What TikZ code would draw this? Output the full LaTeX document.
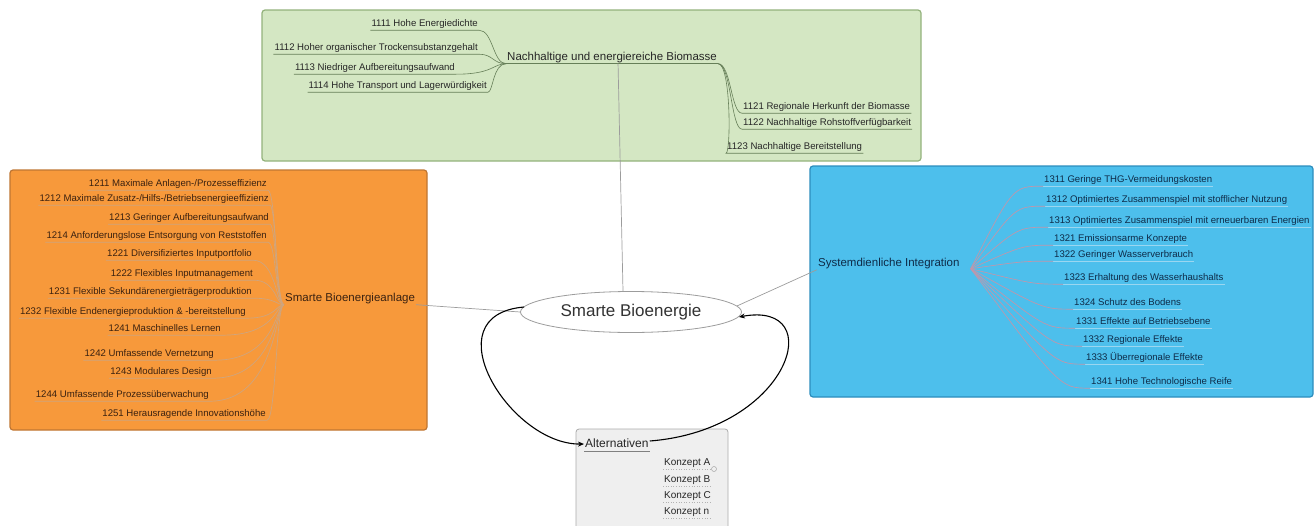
\documentclass[tikz,border=0pt]{standalone}
\usepackage{fontspec}
\setmainfont{Liberation Sans}
\usetikzlibrary{calc,arrows.meta,shapes.geometric}
\definecolor{gfill}{HTML}{D4E7C3}
\definecolor{gdraw}{HTML}{93B27C}
\definecolor{glinec}{HTML}{667F58}
\definecolor{gtext}{HTML}{262626}
\definecolor{ofill}{HTML}{F7993B}
\definecolor{odraw}{HTML}{BF7633}
\definecolor{olinec}{HTML}{CFA57E}
\definecolor{otext}{HTML}{3A2110}
\definecolor{bfill}{HTML}{4DBFEC}
\definecolor{bdraw}{HTML}{2C8DBD}
\definecolor{blinec}{HTML}{C396AA}
\definecolor{bunder}{HTML}{9AD6F0}
\definecolor{btext}{HTML}{0E2B48}
\definecolor{afill}{HTML}{EFEFEF}
\definecolor{adraw}{HTML}{ABABAB}
\definecolor{mlinec}{HTML}{9C9C9C}
\begin{document}
\begin{tikzpicture}[x=1pt,y=-1pt,
  leaf/.style={font=\fontsize{9.6}{10}\selectfont, inner xsep=1pt, inner ysep=1.5pt, text height=7pt, text depth=2pt},
  mainlbl/.style={font=\fontsize{11.5}{13}\selectfont, inner xsep=1pt, inner ysep=1pt, text height=8.5pt, text depth=2.5pt},
  container/.style={line width=1.2pt, rounded corners=3pt},
  glink/.style={draw=glinec, line width=0.6pt},
  olink/.style={draw=olinec, line width=0.7pt},
  blink/.style={draw=blinec, line width=0.65pt},
  bul/.style={draw=bunder, line width=0.7pt},
  mlink/.style={draw=mlinec, line width=0.7pt},
  arr/.style={draw=black, line width=1.1pt, -{Stealth[length=6pt,width=5pt]}},
  kstyle/.style={font=\fontsize{10}{12}\selectfont, inner xsep=1pt, inner ysep=1.5pt, text height=7.5pt, text depth=2pt, text=black!85}
]
\useasboundingbox (0,0) rectangle (1315,525);
% containers
\draw[container, fill=gfill, draw=gdraw] (262,10) rectangle (921,161);
\draw[container, fill=ofill, draw=odraw] (10,170) rectangle (427,430);
\draw[container, fill=bfill, draw=bdraw] (810,166) rectangle (1313,397);
\draw[fill=afill, draw=adraw, line width=0.8pt, rounded corners=3pt] (576,429) rectangle (728,540);

% ---------- green ----------
\node[mainlbl, anchor=west, text=gtext] (gc) at (506,57) {Nachhaltige und energiereiche Biomasse};
\draw[glink] (gc.south west) -- (gc.south east);
\coordinate (gv) at (493,0);
\coordinate (gw) at (731,0);
\foreach \id/\x/\y/\lbl in {1111/479/24/{1111 Hohe Energiedichte},
  1112/479/48/{1112 Hoher organischer Trockensubstanzgehalt},
  1113/456/68/{1113 Niedriger Aufbereitungsaufwand},
  1114/488/86/{1114 Hohe Transport und Lagerwürdigkeit}}{
  \node[leaf, anchor=east, text=gtext] (g\id) at (\x,\y) {\lbl};
  \draw[glink] (gc.south west) .. controls (gv |- gc.south west) and (gv |- g\id.south east) .. (g\id.south east) -- (g\id.south west);
}
\foreach \id/\x/\y/\lbl in {1121/742/107/{1121 Regionale Herkunft der Biomasse},
  1122/742/123/{1122 Nachhaltige Rohstoffverfügbarkeit},
  1123/726/147/{1123 Nachhaltige Bereitstellung}}{
  \node[leaf, anchor=west, text=gtext] (g\id) at (\x,\y) {\lbl};
  \draw[glink] (gc.south east) .. controls (gw |- gc.south east) and (gw |- g\id.south west) .. (g\id.south west) -- (g\id.south east);
}

% ---------- orange ----------
\node[mainlbl, anchor=west, text=otext] (oc) at (284,298) {Smarte Bioenergieanlage};
\coordinate (ov) at (276,0);
\foreach \id/\x/\y/\lbl in {1211/268/184/{1211 Maximale Anlagen-/Prozesseffizienz},
  1212/270/199/{1212 Maximale Zusatz-/Hilfs-/Betriebsenergieeffizienz},
  1213/270/218/{1213 Geringer Aufbereitungsaufwand},
  1214/268/236/{1214 Anforderungslose Entsorgung von Reststoffen},
  1221/253/254/{1221 Diversifiziertes Inputportfolio},
  1222/254/274/{1222 Flexibles Inputmanagement},
  1231/253/292/{1231 Flexible Sekundärenergieträgerproduktion},
  1232/247/312/{1232 Flexible Endenergieproduktion \& -bereitstellung},
  1241/222/329/{1241 Maschinelles Lernen},
  1242/215/354/{1242 Umfassende Vernetzung},
  1243/213/372/{1243 Modulares Design},
  1244/210/395/{1244 Umfassende Prozessüberwachung},
  1251/267/414/{1251 Herausragende Innovationshöhe}}{
  \node[leaf, anchor=east, text=otext] (o\id) at (\x,\y) {\lbl};
  \draw[olink] (oc.south west) .. controls (ov |- oc.south west) and (ov |- o\id.south east) .. (o\id.south east) -- (o\id.south west);
}

% ---------- blue ----------
\node[mainlbl, anchor=west, text=btext] (bc) at (817,263) {Systemdienliche Integration};
\coordinate (bR) at ($(bc.south east)+(10,-1)$);
\foreach \id/\x/\y/\lbl in {1311/1043/180/{1311 Geringe THG-Vermeidungskosten},
  1312/1045/200/{1312 Optimiertes Zusammenspiel mit stofflicher Nutzung},
  1313/1048/221/{1313 Optimiertes Zusammenspiel mit erneuerbaren Energien},
  1321/1053/239/{1321 Emissionsarme Konzepte},
  1322/1053/255/{1322 Geringer Wasserverbrauch},
  1323/1063/278/{1323 Erhaltung des Wasserhaushalts},
  1324/1073/303/{1324 Schutz des Bodens},
  1331/1075/322/{1331 Effekte auf Betriebsebene},
  1332/1082/340/{1332 Regionale Effekte},
  1333/1085/358/{1333 Überregionale Effekte},
  1341/1090/382/{1341 Hohe Technologische Reife}}{
  \node[leaf, anchor=west, text=btext] (b\id) at (\x,\y) {\lbl};
  \draw[bul] (b\id.south west) -- (b\id.south east);
  \draw[blink] (bR) .. controls ($(b\id.south west)+(-30,0)$) .. (b\id.south west);
}

% ---------- centre ----------
\node[ellipse, draw=mlinec, fill=white, line width=0.8pt, minimum width=221pt, minimum height=41pt, inner sep=0pt, font=\fontsize{17}{20}\selectfont, text=black!80] (ell) at (631,312) {Smarte Bioenergie};
\draw[mlink] ($(gc.south)+(6,0)$) -- ($(ell.north)+(-8,0)$);
\draw[mlink] (oc.south east) -- (ell.west);
\draw[mlink] ($(ell.east)+(-5,-6)$) -- (bc.south west);

% ---------- alternatives ----------
\node[anchor=west, font=\fontsize{12}{14}\selectfont, inner xsep=1pt, inner ysep=1.5pt, text height=8.5pt, text depth=2.5pt, text=black!85] (altl) at (584,444) {Alternativen};
\draw[draw=gray, line width=0.7pt] (altl.south west) -- (altl.south east);
\foreach \id/\y/\lbl in {a/463/A, b/480/B, c/496/C, n/512/n}{
  \node[kstyle, anchor=west] (k\id) at (663,\y) {Konzept \lbl};
  \draw[draw=gray!60, dotted, line width=0.6pt] (k\id.south west) -- (k\id.south east);
}
\node[circle, draw=gray!70, line width=0.5pt, inner sep=0pt, minimum size=5pt] (kc) at (714,469) {};

% ---------- arrows ----------
\draw[arr] ($(ell.west)+(4,-5)$) .. controls (430,315) and (510,445) .. (altl.west);
\draw[arr] ($(altl.east)+(0,-3)$) .. controls (790,430) and (830,300) .. ($(ell.east)+(-3,5)$);
\end{tikzpicture}
\end{document}
